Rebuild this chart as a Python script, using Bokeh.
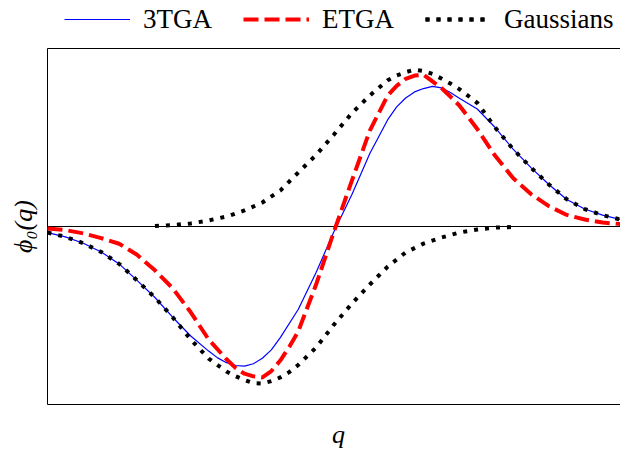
import math
from bokeh.plotting import figure
from bokeh.models import Range1d, Legend, LegendItem, Label
from bokeh.embed import file_html
from bokeh.resources import INLINE

# ---- data ----
q_tga = [-4.0, -3.75, -3.5, -3.25, -3.0, -2.75, -2.5, -2.25, -2.0, -1.75, -1.625,
         -1.5, -1.375, -1.25, -1.125, -1.0, -0.875, -0.75, -0.5, -0.25, 0.0, 0.25,
         0.5, 0.75, 0.875, 1.0, 1.125, 1.25, 1.375, 1.5, 1.625, 1.75, 2.0, 2.25,
         2.5, 2.75, 3.0, 3.25, 3.5, 3.75, 4.0]
tga3 = [-0.034, -0.058, -0.094, -0.143, -0.210, -0.303, -0.399, -0.511, -0.615,
        -0.700, -0.738, -0.765, -0.781, -0.784, -0.771, -0.740, -0.693, -0.624,
        -0.466, -0.258, -0.028, 0.180, 0.410, 0.600, 0.672, 0.722, 0.756, 0.775,
        0.787, 0.779, 0.753, 0.721, 0.660, 0.556, 0.435, 0.331, 0.236, 0.152,
        0.098, 0.064, 0.039]

q_etga = [-4.0, -3.75, -3.5, -3.25, -3.0, -2.75, -2.5, -2.25, -2.0, -1.75, -1.5,
          -1.375, -1.25, -1.125, -1.0, -0.875, -0.75, -0.625, -0.5, -0.25, 0.0,
          0.25, 0.5, 0.75, 0.875, 1.0, 1.125, 1.25, 1.375, 1.5, 1.625, 1.75, 2.0,
          2.25, 2.5, 2.75, 3.0, 3.25, 3.5, 3.75, 4.0]
etga = [-0.011, -0.020, -0.039, -0.065, -0.097, -0.159, -0.246, -0.348, -0.482,
        -0.635, -0.746, -0.794, -0.827, -0.842, -0.848, -0.812, -0.753, -0.677,
        -0.590, -0.326, -0.028, 0.258, 0.539, 0.736, 0.790, 0.829, 0.848, 0.853,
        0.815, 0.778, 0.730, 0.680, 0.548, 0.397, 0.272, 0.182, 0.114, 0.065,
        0.039, 0.022, 0.014]

q_gauss_left = [-4.0, -3.75, -3.5, -3.25, -3.0, -2.75, -2.5, -2.25, -2.0, -1.75,
                -1.5, -1.375, -1.25, -1.125, -1.0, -0.875, -0.75, -0.625, -0.5,
                -0.25, 0.0, 0.25, 0.5, 0.75, 1.0, 1.25, 1.5, 1.75, 2.0, 2.25, 2.5]
gauss_left = [-0.034, -0.058, -0.094, -0.143, -0.210, -0.303, -0.399, -0.511,
              -0.635, -0.742, -0.815, -0.841, -0.862, -0.880, -0.882, -0.869,
              -0.848, -0.818, -0.778, -0.680, -0.551, -0.433, -0.326, -0.225,
              -0.146, -0.096, -0.062, -0.034, -0.017, -0.006, -0.003]

q_gauss_right = [-2.5, -2.25, -2.0, -1.75, -1.5, -1.25, -1.0, -0.75, -0.5, -0.25,
                 0.0, 0.25, 0.5, 0.75, 0.875, 1.0, 1.125, 1.25, 1.375, 1.5, 1.625,
                 1.75, 2.0, 2.25, 2.5, 2.75, 3.0, 3.25, 3.5, 3.75, 4.0]
gauss_right = [0.003, 0.008, 0.017, 0.034, 0.056, 0.090, 0.135, 0.202, 0.303,
               0.402, 0.517, 0.637, 0.736, 0.821, 0.848, 0.867, 0.881, 0.874,
               0.857, 0.831, 0.803, 0.772, 0.695, 0.556, 0.435, 0.331, 0.236,
               0.153, 0.098, 0.064, 0.039]

labels = ["3TGA", "ETGA", "Gaussians"]
x_label = "q"
y_label = "\u03d5\u2080(q)"

# axes limits of the drawing area
x_lo, x_hi = -4.0, 4.0
y_lo, y_hi = -1.0, 1.0

FONT = "Liberation Serif"

# ---- layout (pixels) ----
W, H = 620, 449
LEFT, RIGHT, TOP, BOTTOM = 47, 0, 48, 45
dx = (x_hi - x_lo) / (W - LEFT - RIGHT)
dy = (y_hi - y_lo) / (H - TOP - BOTTOM)

p = figure(width=W, height=H, output_backend="svg", toolbar_location=None,
           x_range=Range1d(x_lo - LEFT * dx, x_hi + RIGHT * dx),
           y_range=Range1d(y_lo - BOTTOM * dy, y_hi + TOP * dy),
           x_axis_location=None, y_axis_location=None,
           min_border=0, min_border_left=0, min_border_right=0,
           min_border_top=0, min_border_bottom=0)
p.title.visible = False
p.grid.grid_line_color = None
p.outline_line_color = None
p.background_fill_color = "white"
p.border_fill_color = "white"

# frame (bottom, left, top) and zero line
p.segment(x0=[x_lo, x_lo, x_lo], y0=[y_lo, y_lo, y_hi],
          x1=[x_hi, x_lo, x_hi], y1=[y_lo, y_hi, y_hi],
          line_color="black", line_width=1)
p.segment(x0=[x_lo], y0=[0.0], x1=[x_hi], y1=[0.0], line_color="black", line_width=1)

r_tga = p.line(q_tga, tga3, line_color="#0000ff", line_width=1.2, line_join="round")
r_etga = p.line(q_etga, etga, line_color="red", line_width=4, line_dash="15 6")
r_g1 = p.line(q_gauss_left, gauss_left, line_color="black", line_width=4, line_dash="4 7")
r_g2 = p.line(q_gauss_right, gauss_right, line_color="black", line_width=4, line_dash="4 7")

# axis labels
p.add_layout(Label(x=(x_lo + x_hi) / 2 + 4.5 * dx, y=y_lo - 30 * dy, text=x_label,
                   text_font=FONT, text_font_size="26px", text_font_style="italic",
                   text_align="center", text_baseline="middle", text_color="black"))
p.add_layout(Label(x=x_lo - 24 * dx, y=(y_lo + y_hi) / 2, text=y_label, angle=math.pi / 2,
                   text_font=FONT, text_font_size="26px", text_font_style="italic",
                   text_align="center", text_baseline="middle", text_color="black"))

legend = Legend(items=[LegendItem(label=labels[0], renderers=[r_tga]),
                       LegendItem(label=labels[1], renderers=[r_etga]),
                       LegendItem(label=labels[2], renderers=[r_g1, r_g2])],
                orientation="horizontal", location=(59, 409.5),
                border_line_color="white", border_line_alpha=1,
                background_fill_color="white", background_fill_alpha=1,
                label_text_font=FONT, label_text_font_size="27px",
                label_text_color="black",
                glyph_width=66, label_standoff=13, spacing=31,
                padding=4, margin=0)
p.add_layout(legend, "center")

open("out.html", "w").write(file_html(p, INLINE))
